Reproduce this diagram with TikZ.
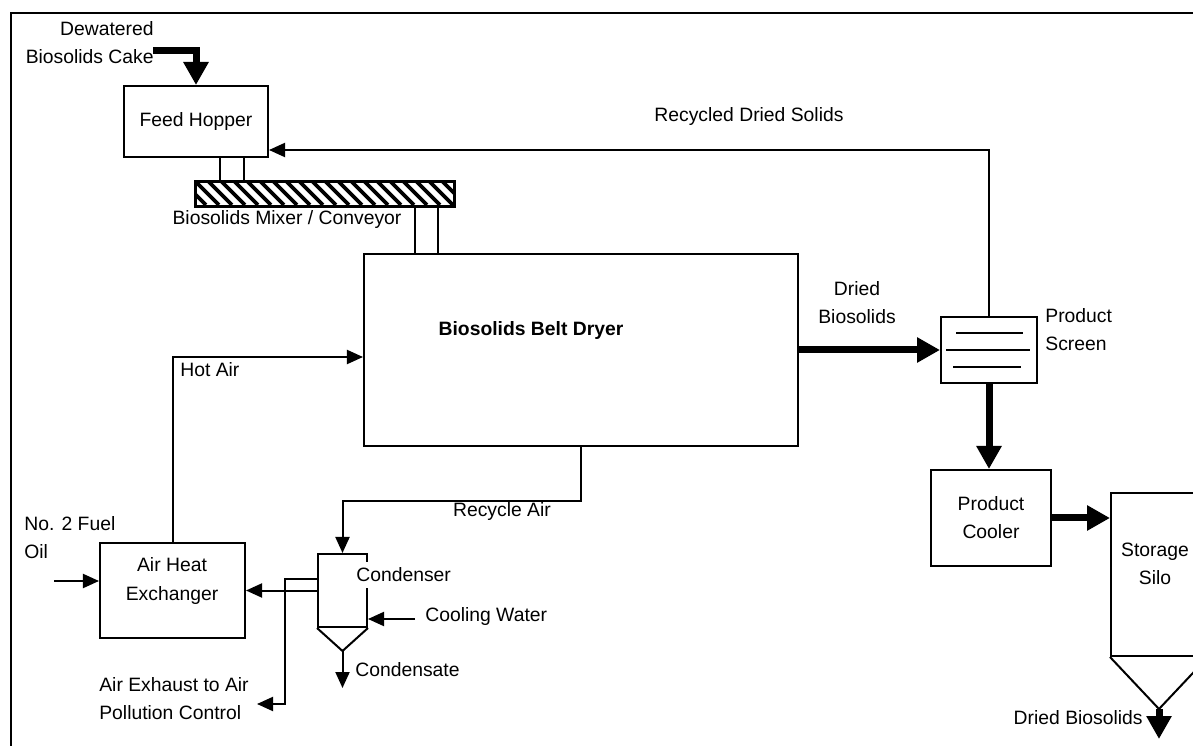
\documentclass[tikz,border=0pt]{standalone}
\usepackage{fontspec}
\setmainfont{Liberation Sans}
\usetikzlibrary{arrows.meta,calc}
\tikzset{
  unit/.style={draw, line width=0.4mm, rectangle, inner sep=0pt, align=center},
  pipe/.style={line width=0.4mm},
  hatch/.style={line width=0.75mm},
  flow/.style={line width=0.4mm, -{Triangle[length=3.2mm,width=2.8mm]}},
  bigflow/.style={line width=1.4mm, -{Triangle[length=4.6mm,width=4.8mm]}},
  lbl/.style={inner sep=0pt, align=left},
}

\begin{document}
\begin{tikzpicture}[x=0.2mm, y=-0.2mm, font=\fontsize{11}{16}\selectfont]
  \useasboundingbox (0,0) rectangle (1193,746);
  \clip (0,0) rectangle (1193,746);
  \draw[pipe] (11,13) rectangle (1260,800);

  % equipment
  \node[unit, minimum width=28.8mm, minimum height=14.2mm] (hopper) at (196,121.5) {Feed Hopper};
  \node[unit, minimum width=51.6mm, minimum height=4.8mm] (conveyor) at (325,194) {};
  \node[unit, minimum width=86.8mm, minimum height=38.4mm] (dryer) at (581,350) {};
  \node[unit, minimum width=19.2mm, minimum height=13.2mm] (screen) at (989,350) {};
  \node[unit, minimum width=24mm, minimum height=19.2mm] (cooler) at (991,518) {Product\\Cooler};
  \node[unit, minimum width=19.2mm, minimum height=32.6mm] (silo) at (1159,574.5) {};
  \node[unit, minimum width=29mm, minimum height=19mm] (hx) at (172.5,590.5) {};
  \node[unit, minimum width=9.8mm, minimum height=14.6mm] (condenser) at (342.5,590.5) {};

  % conveyor hatching
  \begin{scope}
    \clip (conveyor.north west) rectangle (conveyor.south east);
    \foreach \hx in {-26,-13,...,260}
      \draw[hatch] ($(conveyor.north west)+(\hx,0)$) -- ++(24,24);
  \end{scope}
  \draw[pipe] (conveyor.north west) rectangle (conveyor.south east);

  % hoppers and screen decks
  \coordinate (condapex) at ($(condenser.south)+(0,23)$);
  \coordinate (siloapex) at ($(silo.south)+(0,52)$);
  \draw[pipe] (condenser.south west) -- (condapex) -- (condenser.south east);
  \draw[pipe] (silo.south west) -- (siloapex) -- (silo.south east);
  \draw[pipe] ($(screen.center)+(-33,-17)$) -- ($(screen.center)+(34,-17)$);
  \draw[pipe] ($(screen.center)+(-43,0)$) -- ($(screen.center)+(41,0)$);
  \draw[pipe] ($(screen.center)+(-36,17)$) -- ($(screen.center)+(32,17)$);
  \foreach \lx in {220,244} \draw[pipe] (\lx,0 |- hopper.south) -- (\lx,0 |- conveyor.north);
  \foreach \lx in {415,438} \draw[pipe] (\lx,0 |- conveyor.south) -- (\lx,0 |- dryer.north);

  % labels
  \node[lbl, align=right, anchor=east] (cake) at (154,42.5) {Dewatered\\Biosolids Cake};
  \node[lbl] (convlbl) at (287,220) {Biosolids Mixer / Conveyor};
  \node[lbl, font=\fontsize{11}{16}\selectfont\bfseries] (dryerlbl) at (531,331) {Biosolids Belt Dryer};
  \node[lbl] (recyclbl) at (749,117) {Recycled Dried Solids};
  \node[lbl, align=center] (driedlbl) at (857,302.5) {Dried\\Biosolids};
  \node[lbl, anchor=west] (screenlbl) at (1045,330) {Product\\Screen};
  \node[lbl, align=center] (silolbl) at (1155,564) {Storage\\Silo};
  \node[lbl, anchor=east] (outlbl) at (1143,718) {Dried Biosolids};
  \node[lbl, anchor=west] (hotlbl) at (180,370) {Hot Air};
  \node[lbl] (rairlbl) at (502,512) {Recycle Air};
  \node[lbl, anchor=west, fill=white, inner xsep=0.5mm, inner ysep=1.2mm] (condlbl) at (353.5,575) {Condenser};
  \node[lbl, anchor=west] (cwlbl) at (425,617) {Cooling Water};
  \node[lbl, anchor=west] (cdslbl) at (355,670) {Condensate};
  \node[lbl, anchor=west] (fuellbl) at (24,538) {No. 2 Fuel\\Oil};
  \node[lbl, align=center] (hxlbl) at (172,581) {Air Heat\\Exchanger};
  \node[lbl, anchor=west] (exlbl) at (99,698.5) {Air Exhaust to Air\\Pollution Control};

  % solids lines
  \coordinate (cakein) at (153,51);
  \draw[bigflow] (cakein) -| (hopper);
  \draw[flow] (screen.north) |- ([yshift=1.6mm]hopper.south east);
  \draw[bigflow] (dryer) -- (screen);
  \draw[bigflow] (screen.south) -- (screen.south |- cooler.north);
  \draw[bigflow] (cooler.east) -- (cooler.east -| silo.west);
  \draw[bigflow] (siloapex) -- ++(0,30);

  % air and water lines
  \draw[flow] (hx.north) |- ([yshift=-1.4mm]dryer.west);
  \draw[flow] (dryer.south) -- ++(0,54) -| (condenser.north);
  \draw[flow] (condenser.west) -- (hx.east);
  \coordinate (exout) at (257,704);
  \draw[flow] ([yshift=2.3mm]condenser.west) -- ++(-32,0) |- (exout);
  \coordinate (cwin) at (415,619);
  \draw[flow] (cwin) -- (cwin -| condenser.east);
  \draw[flow] (condapex) -- ++(0,37);
  \coordinate (fuelin) at (54,581);
  \draw[flow] (fuelin) -- (fuelin -| hx.west);
\end{tikzpicture}
\end{document}
